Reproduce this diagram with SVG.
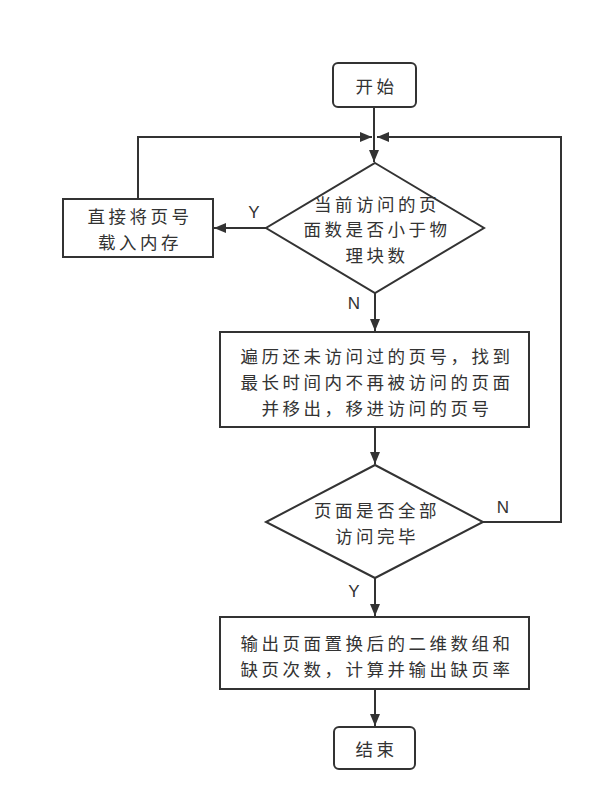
<svg xmlns="http://www.w3.org/2000/svg" width="605" height="811" viewBox="0 0 605 811">
<style>
.shape{fill:#fff;stroke:#333;stroke-width:2}
.conn{fill:none;stroke:#333;stroke-width:2}
text{font-family:"Noto Sans CJK SC","Noto Sans",sans-serif;font-size:17.5px;letter-spacing:3.5px;fill:#333;text-anchor:middle;dominant-baseline:central}
.lbl{font-family:"Liberation Sans","Noto Sans",sans-serif;font-size:17px;letter-spacing:0}
</style>
<defs>
<marker id="arr" markerUnits="userSpaceOnUse" markerWidth="12" markerHeight="12" viewBox="0 0 12 12" refX="12" refY="6" orient="auto">
<path d="M0,1 L12,6 L0,11 Z" fill="#333"/>
</marker>
</defs>
<rect width="605" height="811" fill="#fff"/>
<g id="connectors">
<path class="conn" d="M374,107 L374,162" marker-end="url(#arr)"/>
<path class="conn" d="M138,199 L138,137 L372,137" marker-end="url(#arr)"/>
<path class="conn" d="M483,522 L561,522 L561,137 L377,137" marker-end="url(#arr)"/>
<path class="conn" d="M266,228 L214,228" marker-end="url(#arr)"/>
<path class="conn" d="M375,293 L375,331" marker-end="url(#arr)"/>
<path class="conn" d="M375,427 L375,464" marker-end="url(#arr)"/>
<path class="conn" d="M375,578 L375,616" marker-end="url(#arr)"/>
<path class="conn" d="M375,689 L375,726" marker-end="url(#arr)"/>
<text class="lbl" x="254" y="212">Y</text>
<text class="lbl" x="354" y="303">N</text>
<text class="lbl" x="503" y="507">N</text>
<text class="lbl" x="354" y="591">Y</text>
</g>
<g id="start">
<rect class="shape" x="333" y="63" width="83" height="44" rx="5"/>
<text x="376.5" y="85">开始</text>
</g>
<g id="decision1">
<polygon class="shape" points="375,163 484,228 375,293 266,228"/>
<text x="377" y="203">当前访问的页</text>
<text x="377" y="228">面数是否小于物</text>
<text x="377" y="254">理块数</text>
</g>
<g id="load">
<rect class="shape" x="63" y="199" width="150" height="58"/>
<text x="140" y="215">直接将页号</text>
<text x="140" y="241">载入内存</text>
</g>
<g id="replace">
<rect class="shape" x="220" y="332" width="309" height="95"/>
<text x="377" y="355">遍历还未访问过的页号，找到</text>
<text x="377" y="381">最长时间内不再被访问的页面</text>
<text x="377" y="407">并移出，移进访问的页号</text>
</g>
<g id="decision2">
<polygon class="shape" points="375,465 483,522 375,578 266,522"/>
<text x="377" y="509">页面是否全部</text>
<text x="377" y="535">访问完毕</text>
</g>
<g id="output">
<rect class="shape" x="220" y="617" width="309" height="72"/>
<text x="377" y="642">输出页面置换后的二维数组和</text>
<text x="377" y="668">缺页次数，计算并输出缺页率</text>
</g>
<g id="end">
<rect class="shape" x="334" y="727" width="81" height="42" rx="5"/>
<text x="376.5" y="748">结束</text>
</g>
</svg>
